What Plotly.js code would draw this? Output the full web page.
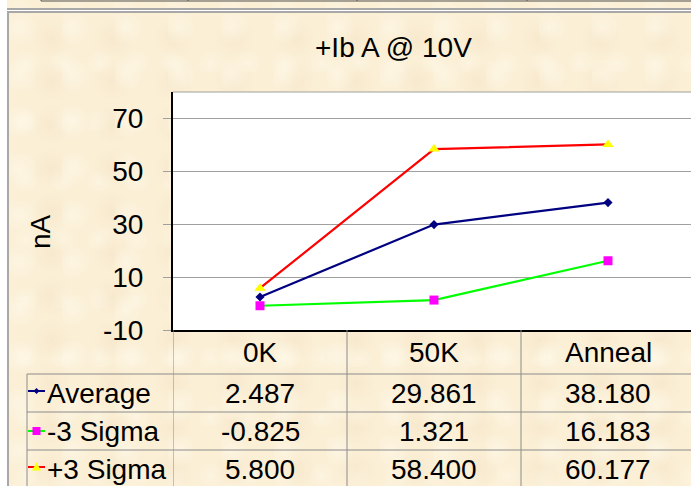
<!DOCTYPE html>
<html><head><meta charset="utf-8">
<script src="https://cdn.plot.ly/plotly-3.0.1.min.js"></script>
<style>
html,body{margin:0;padding:0;background:#fff;width:691px;height:486px;overflow:hidden;}
.parch{background-color:#FBEFD6;
 background-image:
  radial-gradient(circle at 20% 30%, rgba(255,250,235,0.55) 0, rgba(255,250,235,0) 18px),
  radial-gradient(circle at 70% 60%, rgba(240,222,190,0.35) 0, rgba(240,222,190,0) 20px),
  radial-gradient(circle at 45% 85%, rgba(255,250,235,0.45) 0, rgba(255,250,235,0) 14px);
 background-size:53px 47px, 61px 43px, 37px 59px;}
#bgTop{position:absolute;left:7px;top:0;width:684px;height:8px;border-bottom:2px solid #A8A8A8;}
#bgMain{position:absolute;left:7px;top:11px;width:684px;height:475px;border-left:2px solid #A8A8A8;border-top:2px solid #A8A8A8;}
#chart{position:absolute;left:0;top:0;width:691px;height:486px;}
</style></head>
<body>
<div id="bgTop" class="parch"></div>
<div id="bgMain" class="parch"></div>
<div id="chart"></div>
<script>
const categories = ["0K", "50K", "Anneal"];
const average = [2.487, 29.861, 38.180];
const minus3Sigma = [-0.825, 1.321, 16.183];
const plus3Sigma = [5.800, 58.400, 60.177];
const seriesNames = ["Average", "-3 Sigma", "+3 Sigma"];
const tableText = [["2.487","29.861","38.180"],["-0.825","1.321","16.183"],["5.800","58.400","60.177"]];
const yTicks = [-10, 10, 30, 50, 70];
const titleText = "+Ib A @ 10V";
const yTitle = "nA";

const W = 691, H = 486;
const px = x => x / W, py = y => 1 - y / H;
const FONT = "Liberation Sans, Arial, sans-serif";
const idx = categories.map((c, i) => i);

const styles = [
  {line: "#000080", mcolor: "#000080", symbol: "diamond", size: 7},
  {line: "#00FF00", mcolor: "#FF00FF", symbol: "square", size: 9},
  {line: "#FF0000", mcolor: "#FFFF00", symbol: "triangle-up", size: 10}
];
const values = [average, minus3Sigma, plus3Sigma];

const traces = values.map((v, k) => ({
  x: idx, y: v, type: "scatter", mode: "lines+markers", name: seriesNames[k],
  line: {color: styles[k].line, width: 2.2},
  marker: {color: styles[k].mcolor, symbol: styles[k].symbol, size: styles[k].size, line: {width: 0}},
  cliponaxis: false, showlegend: false
}));

const shapes = [];
const annotations = [];
const gridC = "#8C8C8C";
const P = (x, y) => px(x).toFixed(5) + "," + py(y).toFixed(5);
// top strip (previous chart's table edge)
shapes.push({type: "line", xref: "paper", yref: "paper", x0: px(41), x1: px(691), y0: py(1), y1: py(1), line: {color: "#505050", width: 1}});
[41, 188, 357, 527].forEach(x => shapes.push({type: "line", xref: "paper", yref: "paper", x0: px(x), x1: px(x), y0: py(0), y1: py(1), line: {color: "#505050", width: 1}}));
// plot top border
shapes.push({type: "line", xref: "paper", yref: "paper", x0: px(173), x1: px(691), y0: py(92), y1: py(92), line: {color: "#A0A0A0", width: 1}});
// data table grid
const rowLines = [374, 412, 450];
rowLines.forEach(y => shapes.push({type: "line", xref: "paper", yref: "paper", x0: px(27), x1: px(691), y0: py(y), y1: py(y), line: {color: gridC, width: 1}}));
shapes.push({type: "line", xref: "paper", yref: "paper", x0: px(27), x1: px(27), y0: py(374), y1: py(486), line: {color: gridC, width: 1}});
[-0.5, 0.5, 1.5].forEach(x => shapes.push({type: "line", xref: "x", yref: "paper", x0: x, x1: x, y0: py(330), y1: py(486), line: {color: gridC, width: 1}}));

// category header labels
categories.forEach((c, i) => annotations.push({xref: "x", yref: "paper", x: i, y: py(352), text: c, showarrow: false, xanchor: "center", yanchor: "middle", font: {family: FONT, size: 28, color: "#000"}}));
// table rows
const rowCenters = [393, 431, 469];
const keyY = [391, 431, 467];
seriesNames.forEach((n, k) => {
  annotations.push({xref: "paper", yref: "paper", x: px(45), y: py(rowCenters[k]), text: n, showarrow: false, xanchor: "left", yanchor: "middle", font: {family: FONT, size: 28, color: "#000"}});
  tableText[k].forEach((t, i) => annotations.push({xref: "x", yref: "paper", x: i, y: py(rowCenters[k]), text: t, showarrow: false, xanchor: "center", yanchor: "middle", font: {family: FONT, size: 28, color: "#000"}}));
  // legend key line
  const ky = keyY[k];
  shapes.push({type: "line", xref: "paper", yref: "paper", x0: px(28), x1: px(45), y0: py(ky), y1: py(ky), line: {color: styles[k].line, width: 2}});
  // legend key marker
  const cx = 36.5;
  let path;
  if (styles[k].symbol === "diamond") path = "M" + P(cx, ky - 3) + "L" + P(cx + 3, ky) + "L" + P(cx, ky + 3) + "L" + P(cx - 3, ky) + "Z";
  else if (styles[k].symbol === "square") path = "M" + P(cx - 4, ky - 4) + "L" + P(cx + 4, ky - 4) + "L" + P(cx + 4, ky + 4) + "L" + P(cx - 4, ky + 4) + "Z";
  else path = "M" + P(cx, ky - 4.5) + "L" + P(cx + 4.5, ky + 3.5) + "L" + P(cx - 4.5, ky + 3.5) + "Z";
  shapes.push({type: "path", xref: "paper", yref: "paper", path: path, fillcolor: styles[k].mcolor, line: {width: 0}});
});
// title and y title
annotations.push({xref: "paper", yref: "paper", x: px(393), y: py(47), text: titleText, showarrow: false, xanchor: "center", yanchor: "middle", font: {family: FONT, size: 28, color: "#000"}});
annotations.push({xref: "paper", yref: "paper", x: px(40), y: py(232), text: yTitle, textangle: -90, showarrow: false, xanchor: "center", yanchor: "middle", font: {family: FONT, size: 28, color: "#000"}});

const layout = {
  width: W, height: H, margin: {l: 0, r: 0, t: 0, b: 0},
  paper_bgcolor: "rgba(0,0,0,0)", plot_bgcolor: "#FFFFFF",
  showlegend: false,
  xaxis: {domain: [px(173), 1], range: [-0.5, -0.5 + (691 - 173) / 174], showgrid: false, zeroline: false,
          showline: true, linecolor: "#000", linewidth: 2, showticklabels: false, ticks: "", fixedrange: true},
  yaxis: {domain: [py(330), py(92)], range: [-10, 80], tickvals: yTicks, ticktext: yTicks.map(String),
          showgrid: true, gridcolor: "#A0A0A0", gridwidth: 1, zeroline: false,
          showline: true, linecolor: "#000", linewidth: 2, ticks: "outside", ticklen: 8, tickcolor: "#A0A0A0",
          ticklabelstandoff: 14,
          tickfont: {family: FONT, size: 28, color: "#000"}, fixedrange: true},
  shapes: shapes, annotations: annotations
};
Plotly.newPlot("chart", traces, layout, {displayModeBar: false, staticPlot: true});
</script>
</body></html>
